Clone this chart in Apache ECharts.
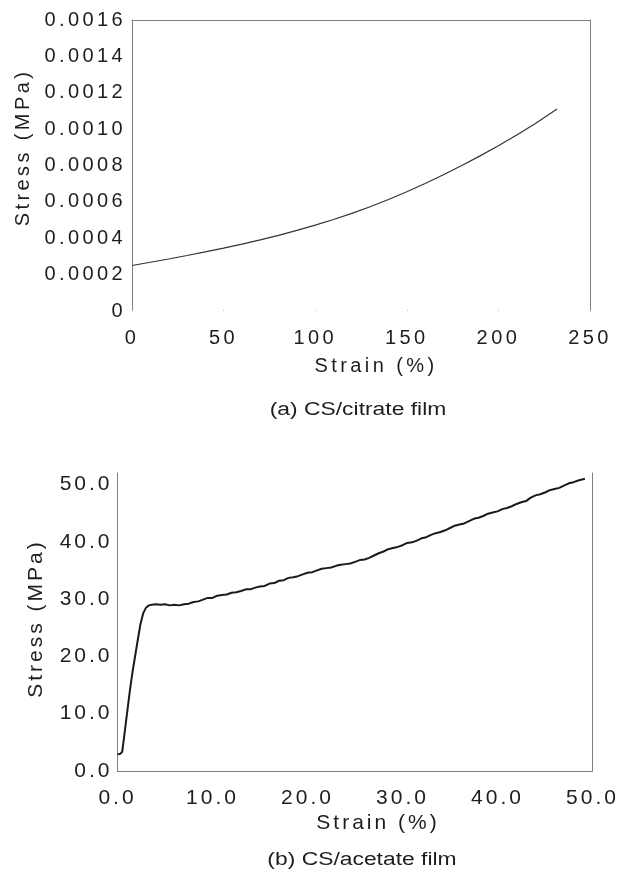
<!DOCTYPE html>
<html>
<head>
<meta charset="utf-8">
<script src="https://cdn.jsdelivr.net/npm/echarts@6/dist/echarts.min.js"></script>
<style>
html,body{margin:0;padding:0;background:#fff;}
#chart{width:626px;height:873px;}
</style>
</head>
<body>
<div id="chart"></div>
<script>
// letter spacing for the wide-spaced axis text (tick labels, axis names)
(function(){
  function patch(proto){
    if(!proto) return;
    var d = Object.getOwnPropertyDescriptor(proto,'font');
    if(!d || !('letterSpacing' in proto)) return;
    Object.defineProperty(proto,'font',{
      configurable:true,
      get:function(){return d.get.call(this);},
      set:function(v){
        d.set.call(this,v);
        var m=/(\d+(?:\.\d+)?)px/.exec(v);
        var s=m?parseFloat(m[1]):0;
        this.letterSpacing = (s===20) ? '3.4px' : (s===21 ? '3px' : '0px');
      }
    });
  }
  patch(window.CanvasRenderingContext2D && CanvasRenderingContext2D.prototype);
  patch(window.OffscreenCanvasRenderingContext2D && OffscreenCanvasRenderingContext2D.prototype);
})();

// ---- (a) CS/citrate film ----
var strainA = [0,10,20,30,40,50,60,70,80,90,100,110,120,130,140,150,160,170,180,190,200,210,220,232];
var stressA = [0.000250,0.000268,0.000286,0.000305,0.000325,0.000346,0.000368,0.000391,0.000416,0.000443,
               0.000472,0.000503,0.000537,0.000573,0.000613,0.000656,0.000701,0.000749,0.000800,0.000853,
               0.000909,0.000968,0.001030,0.001110];
var xTicksA = [0,50,100,150,200,250];
var yTicksA = ['0','0.0002','0.0004','0.0006','0.0008','0.0010','0.0012','0.0014','0.0016'];

// ---- (b) CS/acetate film ----
var strainB = [0,0.3,0.5,0.7,1.0,1.3,1.6,2.0,2.4,2.7,3.0,3.3,3.6,4.0,4.5,5.0,5.5,6.0,6.5,7.0,
  7.5,8.0,8.5,9.0,9.5,10.0,10.5,11.0,11.5,12.0,12.5,13.0,13.5,14.0,14.5,15.0,15.5,16.0,16.5,17.0,
  17.5,18.0,18.5,19.0,19.5,20.0,20.5,21.0,21.5,22.0,22.5,23.0,23.5,24.0,24.5,25.0,25.5,26.0,26.5,27.0,
  27.5,28.0,28.5,29.0,29.5,30.0,30.5,31.0,31.5,32.0,32.5,33.0,33.5,34.0,34.5,35.0,35.5,36.0,36.5,37.0,
  37.5,38.0,38.5,39.0,39.5,40.0,40.5,41.0,41.5,42.0,42.5,43.0,43.5,44.0,44.5,45.0,45.5,46.0,46.5,47.0,
  47.5,48.0,48.5,49.0,49.2];
var stressB = [2.9,3.0,3.4,6.0,10.0,14.0,17.5,21.5,25.5,27.5,28.5,28.9,29.0,29.1,29.0,29.1,28.9,29.0,28.9,29.1,
  29.2,29.5,29.6,29.9,30.2,30.2,30.6,30.7,30.8,31.1,31.2,31.4,31.7,31.7,32.0,32.2,32.3,32.7,32.8,33.2,
  33.3,33.7,33.8,34.0,34.3,34.6,34.7,35.0,35.3,35.4,35.5,35.8,36.0,36.1,36.2,36.5,36.8,36.9,37.2,37.6,
  38.0,38.3,38.7,38.9,39.1,39.4,39.8,39.9,40.2,40.6,40.8,41.2,41.5,41.7,42.0,42.4,42.8,43.0,43.2,43.6,
  44.0,44.2,44.5,44.9,45.1,45.3,45.7,45.9,46.2,46.6,46.9,47.1,47.7,48.1,48.3,48.6,49.0,49.2,49.4,49.8,
  50.2,50.4,50.7,50.9,51.0];
var xTicksB = ['0.0','10.0','20.0','30.0','40.0','50.0'];
var yTicksB = ['0.0','10.0','20.0','30.0','40.0','50.0'];

var FONT = 'Liberation Sans, Arial, sans-serif';
var TXT = '#1e1e1e';
var AX = '#808080';

function pairs(xs, ys){ return xs.map(function(x,i){ return [x, ys[i]]; }); }

var chart = echarts.init(document.getElementById('chart'), null, {renderer:'canvas'});

var option = {
  animation:false,
  backgroundColor:'#fff',
  grid:[
    {left:132, top:20, width:458, height:291},
    {left:117.5, top:473, width:475, height:298}
  ],
  xAxis:[
    {gridIndex:0, type:'value', min:0, max:250, interval:50,
     axisLine:{show:false},
     axisTick:{show:true, inside:true, length:1, lineStyle:{color:'#bbb'}},
     splitLine:{show:false},
     axisLabel:{fontFamily:FONT, fontSize:20, color:TXT, margin:16,
       formatter:function(v){ var i = xTicksA.indexOf(v); return i>=0 ? String(xTicksA[i]) : ''; }}},
    {gridIndex:0, type:'value', position:'top', min:0, max:250,
     axisLine:{show:true, onZero:false, lineStyle:{color:AX, width:1}},
     axisTick:{show:false}, axisLabel:{show:false}, splitLine:{show:false}},
    {gridIndex:1, type:'value', min:0, max:50, interval:10,
     axisLine:{show:true, onZero:false, lineStyle:{color:AX, width:1}},
     axisTick:{show:false}, splitLine:{show:false},
     axisLabel:{fontFamily:FONT, fontSize:21, color:TXT, margin:15,
       formatter:function(v){ var i=Math.round(v/10); return (Math.abs(v-i*10)<1e-9 && xTicksB[i]) ? xTicksB[i] : ''; }}}
  ],
  yAxis:[
    {gridIndex:0, type:'value', min:0, max:0.0016, interval:0.0002,
     axisLine:{show:true, onZero:false, lineStyle:{color:AX, width:1}},
     axisTick:{show:false}, splitLine:{show:false},
     axisLabel:{fontFamily:FONT, fontSize:20, color:TXT, margin:6,
       formatter:function(v){ var i=Math.round(v/0.0002); return yTicksA[i] || ''; }}},
    {gridIndex:0, type:'value', position:'right', min:0, max:0.0016,
     axisLine:{show:true, onZero:false, lineStyle:{color:AX, width:1}},
     axisTick:{show:false}, axisLabel:{show:false}, splitLine:{show:false}},
    {gridIndex:1, type:'value', min:0, max:52, interval:10,
     axisLine:{show:true, onZero:false, lineStyle:{color:AX, width:1}},
     axisTick:{show:false}, splitLine:{show:false},
     axisLabel:{fontFamily:FONT, fontSize:21, color:TXT, margin:5,
       formatter:function(v){ var i=Math.round(v/10); return (Math.abs(v-i*10)<1e-9 && yTicksB[i]) ? yTicksB[i] : ''; }}},
    {gridIndex:1, type:'value', position:'right', min:0, max:52,
     axisLine:{show:true, onZero:false, lineStyle:{color:AX, width:1}},
     axisTick:{show:false}, axisLabel:{show:false}, splitLine:{show:false}}
  ],
  series:[
    {type:'line', xAxisIndex:0, yAxisIndex:0, data:pairs(strainA, stressA),
     showSymbol:false, smooth:false, lineStyle:{color:'#333', width:1.2}},
    {type:'line', xAxisIndex:2, yAxisIndex:2, data:pairs(strainB, stressB),
     showSymbol:false, lineStyle:{color:'#1a1a1a', width:2}}
  ],
  graphic:[
    {type:'text', x:23, y:147.5, rotation:Math.PI/2,
     style:{text:'Stress (MPa)', font:'20px '+FONT, fill:TXT, textAlign:'center', textVerticalAlign:'middle'}},
    {type:'text', x:376, y:366,
     style:{text:'Strain (%)', font:'20px '+FONT, fill:TXT, textAlign:'center', textVerticalAlign:'middle'}},
    {type:'text', x:358, y:410, scaleX:1.27, scaleY:1,
     style:{text:'(a) CS/citrate film', font:'18px '+FONT, fill:TXT, textAlign:'center', textVerticalAlign:'middle'}},
    {type:'text', x:36, y:618.5, rotation:Math.PI/2,
     style:{text:'Stress (MPa)', font:'21px '+FONT, fill:TXT, textAlign:'center', textVerticalAlign:'middle'}},
    {type:'text', x:378, y:823,
     style:{text:'Strain (%)', font:'21px '+FONT, fill:TXT, textAlign:'center', textVerticalAlign:'middle'}},
    {type:'text', x:362, y:860, scaleX:1.27, scaleY:1,
     style:{text:'(b) CS/acetate film', font:'18px '+FONT, fill:TXT, textAlign:'center', textVerticalAlign:'middle'}}
  ]
};
chart.setOption(option);
</script>
</body>
</html>
